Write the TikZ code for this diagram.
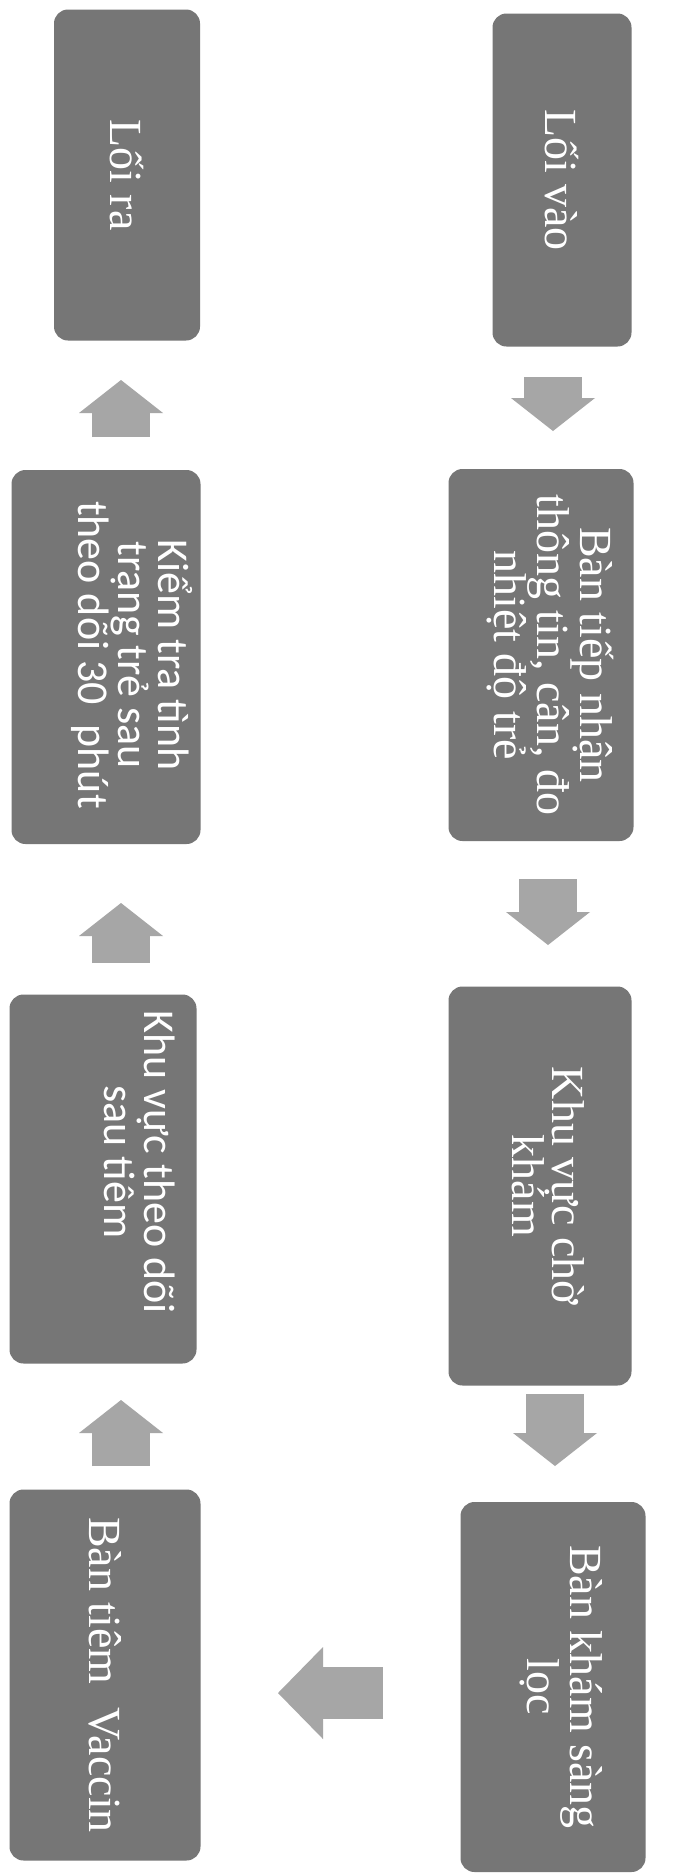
\documentclass[tikz,border=0pt]{standalone}
\usepackage{fontspec}
\setmainfont{Liberation Serif}
\newfontfamily\carl{Carlito}
\usetikzlibrary{arrows.meta}
\definecolor{boxgray}{RGB}{118,118,118}
\definecolor{arrowgray}{RGB}{166,166,166}
\begin{document}
\begin{tikzpicture}[x=1pt,y=-1pt,
  box/.style={rectangle, rounded corners=14pt, fill=boxgray, rotate=-90, inner sep=0pt},
  boxtext/.style={text=white, rotate=-90, inner sep=0pt, align=center},
  serif/.style={boxtext, font=\fontsize{46}{40}\selectfont},
  sans/.style={boxtext, font=\carl\fontsize{44}{40}\selectfont},
  fatv/.style={draw=arrowgray, line width=58pt, -{Triangle[width=84pt,length=33pt,line width=0pt]}},
  fath/.style={draw=arrowgray, line width=52pt, -{Triangle[width=92pt,length=45pt,line width=0pt]}}
]
\useasboundingbox (0,0) rectangle (676,1875);
\fill[white] (0,0) rectangle (676,1875);
% right column
\node[box, minimum width=333pt, minimum height=139pt] (in) at (562,180) {};
\node[serif] at (in.center) {Lối vào};
\node[box, minimum width=372pt, minimum height=185pt] (tiep) at (541,655) {};
\node[serif] at ([xshift=9pt]tiep.center) {Bàn tiếp nhận\\thông tin, cân, đo\\nhiệt độ trẻ};
\node[box, minimum width=399pt, minimum height=183pt] (cho) at (540,1186) {};
\node[serif] at ([xshift=8pt]cho.center) {Khu vực chờ\\khám};
\node[box, minimum width=370pt, minimum height=185pt] (kham) at (553,1687) {};
\node[serif] at ([xshift=8pt]kham.center) {Bàn khám sàng\\lọc};
% left column
\node[box, minimum width=331pt, minimum height=146pt] (ra) at (127,175) {};
\node[serif] at (ra.center) {Lối ra};
\node[box, minimum width=374pt, minimum height=189pt] (kiem) at (106,657) {};
\node[sans] at (132,655) {Kiểm tra tình\\trạng trẻ sau\\theo dõi 30 \ phút};
\node[box, minimum width=369pt, minimum height=187pt] (theodoi) at (103,1179) {};
\node[sans] at (140,1162) {Khu vực theo dõi\\sau tiêm};
\node[box, minimum width=371pt, minimum height=191pt] (tiem) at (105,1675) {};
\node[serif] at (tiem.center) {Bàn tiêm \ Vaccin};
% arrows
\coordinate (d1s) at (553,377);  \coordinate (d1e) at (553,431);
\coordinate (d2s) at (548,879);  \coordinate (d2e) at (548,945);
\coordinate (d3s) at (555,1394); \coordinate (d3e) at (555,1466);
\coordinate (ls) at (383,1693);  \coordinate (le) at (278,1693);
\coordinate (u3s) at (121,1466); \coordinate (u3e) at (121,1400);
\coordinate (u2s) at (121,963);  \coordinate (u2e) at (121,903);
\coordinate (u1s) at (121,437);  \coordinate (u1e) at (121,380);
\draw[fatv] (d1s) -- (d1e);
\draw[fatv] (d2s) -- (d2e);
\draw[fatv] (d3s) -- (d3e);
\draw[fath] (ls) -- (le);
\draw[fatv] (u3s) -- (u3e);
\draw[fatv] (u2s) -- (u2e);
\draw[fatv] (u1s) -- (u1e);
\end{tikzpicture}
\end{document}
